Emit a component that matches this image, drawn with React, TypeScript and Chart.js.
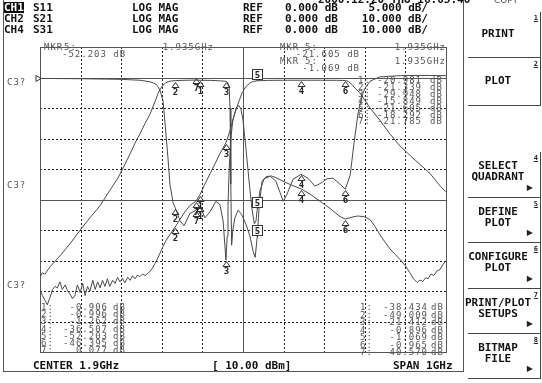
import React, { useEffect, useRef } from "react";
import { Chart, registerables } from "chart.js";

Chart.register(...registerables);

// ---- sweep / channel settings ----
const startGHz = 1.4;
const stopGHz = 2.4;
const centerLabel = "CENTER 1.9GHz";
const spanLabel = "SPAN 1GHz";
const powerLabel = "[ 10.00 dBm]";
const divisions = 10;
const refPositionDiv = 9;
const ch1RefDb = 0;
const ch2RefDb = 0;
const ch4RefDb = 0;
const ch1ScaleDb = 5;
const ch2ScaleDb = 10;
const ch4ScaleDb = 10;

// ---- CH1 S11 (LOG MAG) ----
const s11Freq = [1.400,1.500,1.600,1.646,1.671,1.683,1.691,1.696,1.703,1.708,1.715,1.720,1.728,1.733,1.745,1.755,1.769,1.784,1.794,1.806,1.819,1.833,1.843,1.851,1.858,1.861,1.863,1.866,1.870,1.875,1.883,1.890,1.895,1.900,1.907,1.915,1.922,1.928,1.932,1.935,1.942,1.952,1.967,1.981,1.991,1.999,2.008,2.023,2.043,2.060,2.077,2.090,2.107,2.122,2.139,2.152,2.164,2.173,2.183,2.193,2.200,2.213,2.237,2.287,2.336,2.400];
const s11Db = [-0.15,-0.2,-0.3,-0.45,-0.7,-1.0,-1.5,-2.2,-3.8,-7.5,-13,-17.5,-20.6,-21.339,-23.5,-24.3,-22.3,-21.785,-20.981,-23,-22,-20.3,-20.8,-23.5,-29.948,-26,-21,-15,-10,-7,-5,-4.6,-5.2,-7,-11.5,-17,-21.5,-24,-23.5,-21.605,-18.5,-16.6,-16.2,-17,-18.8,-20.3,-19.2,-16.7,-15.849,-16.5,-17.8,-17.4,-16.6,-16.5,-17.5,-18.292,-16,-11,-6,-3,-1.8,-0.6,0.1,0.3,0.35,0.3];

// ---- CH2 S21 (LOG MAG) ----
const s21Freq = [1.400,1.406,1.412,1.425,1.449,1.474,1.499,1.523,1.548,1.572,1.592,1.609,1.622,1.634,1.646,1.659,1.671,1.683,1.691,1.696,1.703,1.710,1.720,1.733,1.760,1.784,1.794,1.820,1.845,1.858,1.863,1.866,1.868,1.870,1.872,1.875,1.880,1.888,1.897,1.907,1.917,1.925,1.930,1.935,1.940,1.947,1.957,1.970,1.981,1.991,2.003,2.020,2.043,2.065,2.090,2.115,2.139,2.152,2.168,2.183,2.200,2.213,2.225,2.237,2.250,2.262,2.275,2.287,2.299,2.311,2.320,2.329,2.336,2.343,2.350,2.356,2.363,2.370,2.378,2.385,2.392,2.400];
const s21Db = [-65.5,-64,-64.5,-62,-58.5,-54.5,-50,-46,-42,-37,-33,-28.5,-25,-21.5,-18.5,-15,-12,-8,-5.2,-3.8,-2.5,-1.7,-1.2,-0.996,-0.9,-0.85,-0.906,-0.95,-1.1,-1.262,-1.8,-3,-10,-35,-55,-50,-46,-43.5,-45,-48,-52,-57,-59,-52.203,-42,-34,-32.5,-32.3,-32.8,-33.5,-34.3,-35.3,-36.507,-38.2,-40.6,-43,-45.6,-46.395,-45.8,-45.4,-45.7,-46.6,-48.8,-51.5,-54,-56.2,-58,-59.7,-61.6,-64,-66,-67.2,-66.4,-66.9,-65.6,-66,-64.4,-64.9,-63.4,-63,-61.4,-60];

// ---- CH4 S31 (LOG MAG) ----
const s31Freq = [1.400,1.406,1.412,1.418,1.425,1.431,1.437,1.443,1.449,1.455,1.462,1.468,1.474,1.480,1.486,1.492,1.499,1.505,1.511,1.517,1.523,1.530,1.536,1.542,1.548,1.554,1.560,1.566,1.572,1.579,1.585,1.591,1.597,1.603,1.609,1.616,1.622,1.628,1.634,1.640,1.646,1.652,1.659,1.665,1.671,1.677,1.683,1.689,1.696,1.703,1.710,1.720,1.733,1.745,1.757,1.769,1.784,1.794,1.806,1.819,1.831,1.843,1.858,1.868,1.878,1.888,1.898,1.907,1.917,1.925,1.935,1.960,2.000,2.043,2.090,2.130,2.152,2.160,2.168,2.176,2.188,2.200,2.213,2.237,2.262,2.287,2.311,2.336,2.361,2.385,2.400];
const s31Db = [-69.5,-71.5,-73,-74.5,-72,-69.5,-68.5,-69,-67,-69.5,-68,-70,-71,-72.5,-71.5,-68,-70.5,-67.5,-71.5,-68.5,-70,-66.5,-69.5,-67,-69,-66.5,-68.5,-66,-68.5,-66.5,-67.5,-65.5,-67,-65.8,-67.3,-65.5,-66.5,-65,-66,-64.8,-65.3,-64.5,-64.9,-64.3,-63.5,-62.5,-61,-59.5,-57.5,-55.4,-53.5,-51.5,-49.009,-46.5,-44,-42,-40.570,-38.434,-35,-31.5,-28.3,-25,-21.412,-17.5,-12.5,-8.5,-5,-3,-1.8,-1.3,-1.069,-0.95,-0.9,-0.896,-0.9,-0.93,-0.965,-1.3,-2.3,-3.5,-5,-7.5,-10,-14,-18.5,-22.5,-25.5,-28.5,-31.5,-35.5,-37.5];

// ---- markers ----
const markerNumbers = [1, 2, 3, 4, 5, 6, 7];
const markerFreqGHz = [1.794, 1.733, 1.858, 2.043, 1.935, 2.152, 1.784];
const s11MarkerDb = [-20.981, -21.339, -29.948, -15.849, -21.605, -18.292, -21.785];
const s21MarkerDb = [-0.906, -0.996, -1.262, -36.507, -52.203, -46.395, 0.077];
const s31MarkerDb = [-38.434, -49.009, -21.412, -0.896, -1.069, -0.965, -40.57];
const activeMarker = 5;

// ---- header ----
const channelNames = ["CH1", "CH2", "CH4"];
const paramNames = ["S11", "S21", "S31"];
const formatNames = ["LOG MAG", "LOG MAG", "LOG MAG"];
const refTexts = ["0.000 dB", "0.000 dB", "0.000 dB"];
const scaleTexts = ["5.000 dB/", "10.000 dB/", "10.000 dB/"];
const dateText = "2000:12:20 THU 16:05:40";

const softkeyLabels = [["PRINT"], ["PLOT"], ["SELECT", "QUADRANT"], ["DEFINE", "PLOT"], ["CONFIGURE", "PLOT"], ["PRINT/PLOT", "SETUPS"], ["BITMAP", "FILE"]];
const softkeyNums = ["1", "2", "4", "5", "6", "7", "8"];
const softkeyArrows = [false, false, true, true, true, true, true];

const axisRange = (ref: number, scale: number) => ({
  min: ref - refPositionDiv * scale,
  max: ref + (divisions - refPositionDiv) * scale,
});

const traceDefs = [
  { axis: "ch1", marks: s11MarkerDb },
  { axis: "ch2", marks: s21MarkerDb },
  { axis: "ch4", marks: s31MarkerDb },
];

const naPlugin = {
  id: "naOverlay",
  beforeDatasetsDraw(chart: any) {
    const { ctx } = chart;
    const xs = chart.scales.x;
    const ys = chart.scales.ch1;
    const L = Math.round(xs.getPixelForValue(startGHz));
    const R = Math.round(xs.getPixelForValue(stopGHz));
    const T = Math.round(ys.getPixelForValue(ys.max));
    const B = Math.round(ys.getPixelForValue(ys.min));
    ctx.save();
    ctx.lineWidth = 1;
    const step = (stopGHz - startGHz) / divisions;
    for (let i = 1; i < divisions; i++) {
      const px = Math.round(xs.getPixelForValue(startGHz + i * step)) + 0.5;
      const solid = i === divisions / 2;
      ctx.setLineDash(solid ? [] : [2, 2]);
      ctx.strokeStyle = solid ? "#555" : "#222";
      ctx.beginPath();
      ctx.moveTo(px, T);
      ctx.lineTo(px, B);
      ctx.stroke();
    }
    for (let j = 1; j < divisions; j++) {
      const v = ys.min + j * ch1ScaleDb;
      const py = Math.round(ys.getPixelForValue(v)) + 0.5;
      const solid = j === refPositionDiv || j === divisions / 2;
      ctx.setLineDash(solid ? [] : [2, 2]);
      ctx.strokeStyle = solid ? "#555" : "#222";
      ctx.beginPath();
      ctx.moveTo(L, py);
      ctx.lineTo(R, py);
      ctx.stroke();
    }
    ctx.setLineDash([]);
    ctx.strokeStyle = "#555";
    ctx.strokeRect(L + 0.5, T + 0.5, R - L, B - T);
    // reference position indicator
    const ry = Math.round(ys.getPixelForValue(ch1RefDb)) + 0.5;
    ctx.strokeStyle = "#333";
    ctx.beginPath();
    ctx.moveTo(L - 4, ry - 3);
    ctx.lineTo(L + 1, ry);
    ctx.lineTo(L - 4, ry + 3);
    ctx.closePath();
    ctx.stroke();
    ctx.restore();
  },
  afterDatasetsDraw(chart: any) {
    const { ctx } = chart;
    const xs = chart.scales.x;
    ctx.save();
    ctx.lineWidth = 1;
    ctx.strokeStyle = "#333";
    ctx.fillStyle = "#222";
    ctx.font = 'bold 9px "DejaVu Sans Mono", monospace';
    ctx.textAlign = "center";
    ctx.textBaseline = "top";
    traceDefs.forEach((tr) => {
      const ys = chart.scales[tr.axis];
      markerFreqGHz.forEach((f, i) => {
        const px = Math.round(xs.getPixelForValue(f)) + 0.5;
        const py = Math.round(ys.getPixelForValue(tr.marks[i]));
        const n = markerNumbers[i];
        if (n === activeMarker) {
          ctx.fillStyle = "#fff";
          ctx.fillRect(px - 5, py - 11.5, 10, 10);
          ctx.strokeRect(px - 5, py - 11.5, 10, 10);
          ctx.fillStyle = "#222";
          ctx.fillText(String(n), px, py - 10);
          ctx.beginPath();
          ctx.moveTo(px, py - 1.5);
          ctx.lineTo(px, py);
          ctx.stroke();
        } else {
          ctx.beginPath();
          ctx.moveTo(px, py + 1.5);
          ctx.lineTo(px - 3.5, py + 6.5);
          ctx.lineTo(px + 3.5, py + 6.5);
          ctx.closePath();
          ctx.stroke();
          ctx.fillText(String(n), px, py + 7.5);
        }
      });
    });
    ctx.restore();
  },
};

const hdr: React.CSSProperties = { font: 'bold 11px "DejaVu Sans Mono", monospace', lineHeight: "11px", color: "#111" };
const ann: React.CSSProperties = { font: '9px "DejaVu Sans Mono", monospace', lineHeight: "9px", letterSpacing: "1px", color: "#555" };

function Txt(props: { x?: number; r?: number; y: number; s: React.CSSProperties; children: any }) {
  const st: React.CSSProperties = { position: "absolute", top: props.y, whiteSpace: "pre", ...props.s };
  if (props.r !== undefined) st.right = 542 - props.r;
  else st.left = props.x;
  return <div style={st}>{props.children}</div>;
}

export default function App() {
  const ref = useRef<HTMLCanvasElement>(null);

  useEffect(() => {
    const toPts = (f: number[], d: number[]) => f.map((x, i) => ({ x, y: d[i] }));
    const lineStyle = { borderColor: "#4a4a4a", borderWidth: 1, pointRadius: 0, tension: 0, fill: false };
    const chart = new Chart(ref.current as HTMLCanvasElement, {
      type: "line",
      data: {
        datasets: [
          { label: "S11", data: toPts(s11Freq, s11Db), yAxisID: "ch1", ...lineStyle },
          { label: "S21", data: toPts(s21Freq, s21Db), yAxisID: "ch2", ...lineStyle },
          { label: "S31", data: toPts(s31Freq, s31Db), yAxisID: "ch4", ...lineStyle },
        ] as any,
      },
      options: {
        responsive: false,
        animation: false,
        devicePixelRatio: 1,
        events: [],
        layout: { padding: { left: 40, top: 47, right: 96, bottom: 31 } },
        plugins: { legend: { display: false }, tooltip: { enabled: false }, title: { display: false } },
        scales: {
          x: { type: "linear", min: startGHz, max: stopGHz, display: false },
          ch1: { type: "linear", position: "left", ...axisRange(ch1RefDb, ch1ScaleDb), display: false },
          ch2: { type: "linear", position: "left", ...axisRange(ch2RefDb, ch2ScaleDb), display: false },
          ch4: { type: "linear", position: "left", ...axisRange(ch4RefDb, ch4ScaleDb), display: false },
        } as any,
      },
      plugins: [naPlugin],
    });
    return () => chart.destroy();
  }, []);

  const rowTops = [2, 13, 24];
  const keyTops = [12, 58, 152, 198, 243, 289, 334];
  const keyBottoms = [58, 106, 198, 243, 289, 334, 379];
  const fmt = (v: number) => v.toFixed(3);

  return (
    <div style={{ position: "fixed", left: 0, top: 0, width: 542, height: 383, background: "#fff", overflow: "hidden" }}>
      <canvas ref={ref} width={542} height={383} style={{ position: "absolute", left: 0, top: 0, width: 542, height: 383, display: "block" }} />
      {/* screen frame */}
      <div style={{ position: "absolute", left: 3, top: -2, width: 459, height: 373, borderLeft: "1px solid #555", borderRight: "1px solid #555", borderBottom: "1px solid #555" }} />
      {/* date line (cut) */}
      <Txt x={318} y={-6} s={hdr}>{dateText}</Txt>
      {/* header */}
      {rowTops.map((t, i) => (
        <React.Fragment key={"h" + i}>
          <Txt x={4} y={t} s={i === 0 ? { ...hdr, background: "#111", color: "#fff" } : hdr}>{channelNames[i]}</Txt>
          <Txt x={33} y={t} s={hdr}>{paramNames[i]}</Txt>
          <Txt x={132} y={t} s={hdr}>{formatNames[i]}</Txt>
          <Txt x={243} y={t} s={hdr}>REF</Txt>
          <Txt x={285} y={t} s={hdr}>{refTexts[i]}</Txt>
          <Txt r={428} y={t} s={hdr}>{scaleTexts[i]}</Txt>
        </React.Fragment>
      ))}
      {/* marker readouts */}
      <Txt x={44} y={43} s={ann}>MKR</Txt>
      <Txt x={64} y={43} s={ann}>{markerNumbers[4] + ":"}</Txt>
      <Txt r={214} y={43} s={ann}>{markerFreqGHz[4].toFixed(3) + "GHz"}</Txt>
      <Txt x={62} y={50} s={ann}>{fmt(s21MarkerDb[4]) + " dB"}</Txt>
      <Txt x={280} y={43} s={ann}>MKR</Txt>
      <Txt x={305} y={43} s={ann}>{markerNumbers[4] + ":"}</Txt>
      <Txt r={446} y={43} s={ann}>{markerFreqGHz[4].toFixed(3) + "GHz"}</Txt>
      <Txt r={360} y={50} s={ann}>{fmt(s11MarkerDb[4]) + " dB"}</Txt>
      <Txt x={280} y={57} s={ann}>MKR</Txt>
      <Txt x={305} y={57} s={ann}>{markerNumbers[4] + ":"}</Txt>
      <Txt r={446} y={57} s={ann}>{markerFreqGHz[4].toFixed(3) + "GHz"}</Txt>
      <Txt r={360} y={64} s={ann}>{fmt(s31MarkerDb[4]) + " dB"}</Txt>
      {/* marker lists */}
      {markerNumbers.map((n, i) => (
        <React.Fragment key={"l" + i}>
          <Txt x={358} y={76 + i * 6.9} s={ann}>{n + ":"}</Txt>
          <Txt r={422} y={76 + i * 6.9} s={ann}>{fmt(s11MarkerDb[i])}</Txt>
          <Txt x={430} y={76 + i * 6.9} s={ann}>dB</Txt>
          <Txt x={41} y={303 + i * 7.2} s={ann}>{n + ":"}</Txt>
          <Txt r={108} y={303 + i * 7.2} s={ann}>{fmt(s21MarkerDb[i])}</Txt>
          <Txt x={113} y={303 + i * 7.2} s={ann}>dB</Txt>
          <Txt x={360} y={303 + i * 7.5} s={ann}>{n + ":"}</Txt>
          <Txt r={428} y={303 + i * 7.5} s={ann}>{fmt(s31MarkerDb[i])}</Txt>
          <Txt x={431} y={303 + i * 7.5} s={ann}>dB</Txt>
        </React.Fragment>
      ))}
      {/* left labels */}
      {[78, 181, 281].map((t, i) => (
        <Txt key={"c" + i} x={7} y={t} s={ann}>C3?</Txt>
      ))}
      {/* bottom */}
      <Txt x={33} y={360} s={hdr}>{centerLabel}</Txt>
      <Txt x={212} y={360} s={hdr}>{powerLabel}</Txt>
      <Txt x={393} y={360} s={hdr}>{spanLabel}</Txt>
      {/* softkeys */}
      <Txt x={494} y={-4} s={{ ...ann, letterSpacing: "0px", font: '9px "DejaVu Sans", sans-serif' }}>COPY</Txt>
      {softkeyLabels.map((lines, i) => {
        const top = keyTops[i];
        const bottom = keyBottoms[i];
        const h = bottom - top;
        const single = lines.length === 1;
        return (
          <div key={"k" + i} style={{ position: "absolute", left: 468, top, width: 72, height: h - 1, borderRight: "1px solid #444", borderBottom: "1px solid #444" }}>
            {lines.map((ln, j) => (
              <div key={j} style={{ position: "absolute", left: -6, width: 72, textAlign: "center", top: single ? h / 2 - 7 : 8 + j * 11, whiteSpace: "pre", ...hdr }}>{ln}</div>
            ))}
            <div style={{ position: "absolute", right: 2, top: 3, font: 'bold 7px "DejaVu Sans Mono", monospace', lineHeight: "7px", textDecoration: "underline", color: "#222" }}>{softkeyNums[i]}</div>
            {softkeyArrows[i] && (
              <div style={{ position: "absolute", right: 7, top: h - 14, font: '8px "DejaVu Sans", sans-serif', lineHeight: "8px", color: "#222" }}>▶</div>
            )}
          </div>
        );
      })}
    </div>
  );
}
